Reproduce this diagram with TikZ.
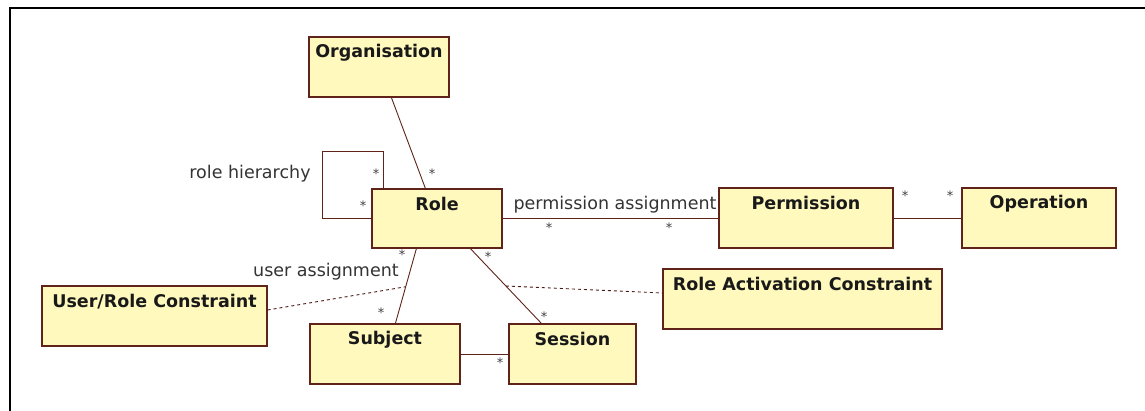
\documentclass[tikz,border=0pt]{standalone}
\usepackage{fontspec}
\setmainfont{DejaVu Sans}
\usetikzlibrary{calc}
\definecolor{boxfill}{RGB}{255,249,190}
\definecolor{boxline}{RGB}{95,35,25}
\begin{document}
\begin{tikzpicture}[x=1pt,y=-1pt,
  cls/.style={draw=boxline,fill=boxfill,line width=1.2pt,rectangle,inner sep=0pt},
  title/.style={anchor=center,yshift=-16pt,font=\fontsize{17.5}{20}\selectfont\bfseries,text=black!90},
  assoc/.style={draw=boxline,line width=0.9pt},
  note/.style={draw=boxline!80!black,line width=0.9pt,dash pattern=on 3pt off 3pt},
  mult/.style={font=\fontsize{13}{15}\selectfont,text=black!75,inner sep=0pt},
  lbl/.style={font=\fontsize{17.5}{20}\selectfont,text=black!80,inner sep=0pt}]
\useasboundingbox (0,0) rectangle (1145,411);
% frame
\draw[line width=2.5pt] (10,411) -- (10,8) -- (1146,8);

% classes
\node[cls,minimum width=140pt,minimum height=60pt,label={[title]north:Organisation}] (org) at (379,67) {};
\node[cls,minimum width=130pt,minimum height=59pt,label={[title]north:Role}] (role) at (437,218.5) {};
\node[cls,minimum width=174pt,minimum height=60pt,label={[title]north:Permission}] (perm) at (806,218) {};
\node[cls,minimum width=154pt,minimum height=60pt,label={[title]north:Operation}] (op) at (1039,218) {};
\node[cls,minimum width=279pt,minimum height=60pt,label={[title]north:Role Activation Constraint}] (rac) at (802.5,299) {};
\node[cls,minimum width=225pt,minimum height=60pt,label={[title]north:User/Role Constraint}] (urc) at (154.5,316) {};
\node[cls,minimum width=150pt,minimum height=60pt,label={[title]north:Subject}] (subj) at (385,354) {};
\node[cls,minimum width=127pt,minimum height=60pt,label={[title]north:Session}] (sess) at (572.5,354) {};

% association end points
\coordinate (rs1) at ([xshift=45pt]role.south west);
\coordinate (rs2) at ([xshift=86pt]subj.north west);
\coordinate (re1) at ([xshift=99pt]role.south west);
\coordinate (re2) at ([xshift=33pt]sess.north west);
\coordinate (loop) at (322,151);

% associations
\draw[assoc] ([xshift=83pt]org.south west) -- ([xshift=54pt]role.north west);
\draw[assoc] ([xshift=12pt]role.north west) |- (loop) |- (role.west);
\draw[assoc] (role.east) -- (perm.west |- role.east);
\draw[assoc] (perm.east) -- (op.west);
\draw[assoc] (rs1) -- (rs2);
\draw[assoc] (re1) -- (re2);
\draw[assoc] (subj.east) -- (sess.west);

% constraint notes
\draw[note] ([yshift=6pt]urc.east) -- ($(rs1)!0.51!(rs2)$);
\draw[note] ($(re1)!0.5!(re2)$) -- ([yshift=6pt]rac.west);

% association labels
\node[lbl] (lh) at (250,174) {role hierarchy};
\node[lbl] (lp) at (615,205) {permission assignment};
\node[lbl] (lu) at (326,272) {user assignment};

% multiplicities
\node[mult] (m1) at (432,174) {*};
\node[mult] (m2) at (376,174) {*};
\node[mult] (m3) at (363,206) {*};
\node[mult] (m4) at (549,228) {*};
\node[mult] (m5) at (669,228) {*};
\node[mult] (m6) at (905,196) {*};
\node[mult] (m7) at (950,196) {*};
\node[mult] (m8) at (402,255) {*};
\node[mult] (m9) at (381,313) {*};
\node[mult] (m10) at (488,257) {*};
\node[mult] (m11) at (544,317) {*};
\node[mult] (m12) at (500,363) {*};
\end{tikzpicture}
\end{document}
